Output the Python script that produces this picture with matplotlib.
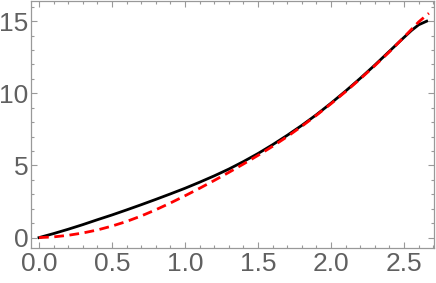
import matplotlib
matplotlib.use("Agg")
import matplotlib.pyplot as plt
from matplotlib.ticker import MultipleLocator, FormatStrFormatter

plt.rcParams["font.family"] = ["Liberation Sans", "DejaVu Sans"]

# curves
x_black = [0, 0.1, 0.2, 0.3, 0.4, 0.5, 0.6, 0.7, 0.8, 0.9, 1.0, 1.1, 1.2, 1.3,
           1.4, 1.5, 1.6, 1.7, 1.8, 1.9, 2.0, 2.1, 2.2, 2.3, 2.4, 2.5, 2.55,
           2.6, 2.655]
y_black = [0, 0.28, 0.58, 0.9, 1.24, 1.57, 1.92, 2.28, 2.65, 3.03, 3.42, 3.84,
           4.28, 4.75, 5.27, 5.83, 6.44, 7.09, 7.78, 8.52, 9.32, 10.16, 11.04,
           11.96, 12.92, 13.88, 14.35, 14.75, 15.0]

x_red = [0, 0.1, 0.2, 0.3, 0.4, 0.5, 0.6, 0.7, 0.8, 0.9, 1.0, 1.1, 1.2, 1.3,
         1.4, 1.5, 1.6, 1.7, 1.8, 1.9, 2.0, 2.1, 2.2, 2.3, 2.4, 2.5, 2.6, 2.67]
y_red = [0, 0.05, 0.16, 0.32, 0.53, 0.8, 1.12, 1.5, 1.93, 2.4, 2.9, 3.42,
         3.96, 4.52, 5.1, 5.7, 6.33, 7.0, 7.72, 8.48, 9.28, 10.12, 11.0, 11.92,
         12.88, 13.9, 14.95, 15.55]

fig = plt.figure(figsize=(4.36, 2.83), dpi=100)
ax = fig.add_axes([0.0711, 0.1237, 0.9243, 0.8728])

ax.plot(x_black, y_black, color="#000000", lw=2.0, zorder=3)
ax.plot(x_red, y_red, color="#ff0000", lw=2.0, dashes=(3.5, 2.0), zorder=4)

ax.set_xlim(-0.055, 2.705)
ax.set_ylim(-0.72, 16.4)

gray = "#999999"
for s in ax.spines.values():
    s.set_color(gray)
    s.set_linewidth(0.9)

ax.xaxis.set_major_locator(MultipleLocator(0.5))
ax.xaxis.set_minor_locator(MultipleLocator(0.1))
ax.yaxis.set_major_locator(MultipleLocator(5))
ax.yaxis.set_minor_locator(MultipleLocator(1))
ax.xaxis.set_major_formatter(FormatStrFormatter("%.1f"))
ax.yaxis.set_major_formatter(FormatStrFormatter("%d"))

ax.tick_params(which="both", direction="in", top=True, right=True,
               color=gray, width=0.8)
ax.tick_params(which="major", length=4.5, labelsize=19, labelcolor="#606060")
ax.tick_params(axis="x", which="major", pad=3)
ax.tick_params(axis="y", which="major", pad=2)
ax.tick_params(which="minor", length=2.5)

fig.savefig("out.png", dpi=100)
